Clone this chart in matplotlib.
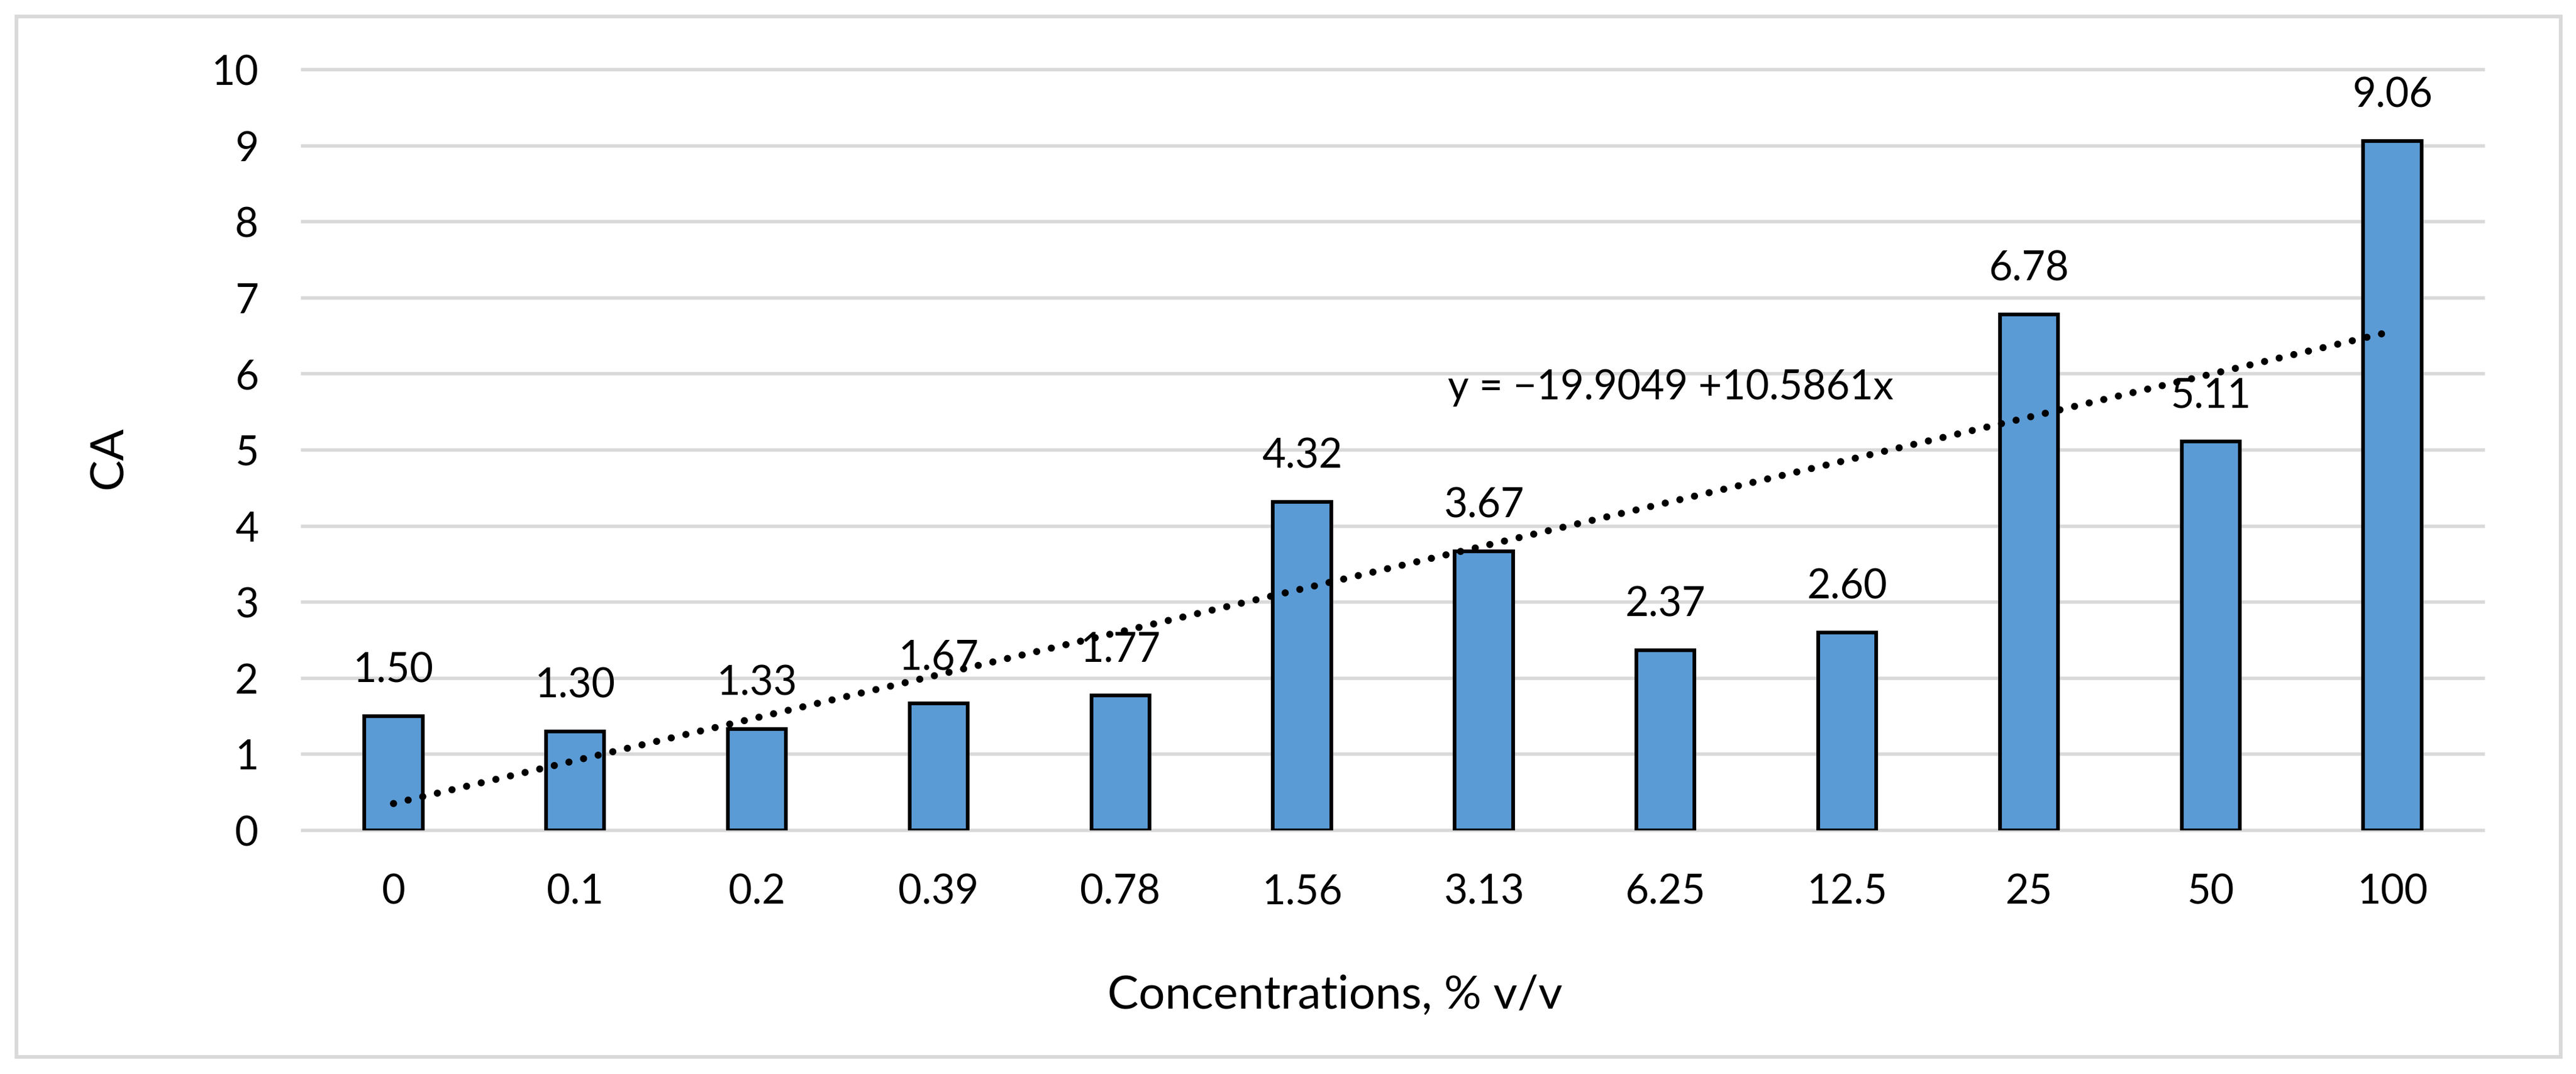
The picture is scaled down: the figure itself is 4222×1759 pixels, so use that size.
import numpy as np
import matplotlib
matplotlib.use('Agg')
import matplotlib.pyplot as plt
from matplotlib.patches import Rectangle

plt.rcParams['font.family'] = ['Lato', 'DejaVu Sans']

# Data.
concentrations = ['0', '0.1', '0.2', '0.39', '0.78', '1.56', '3.13',
                  '6.25', '12.5', '25', '50', '100']
ca_values      = [1.50, 1.30, 1.33, 1.67, 1.77, 4.32, 3.67,
                  2.37, 2.60, 6.78, 5.11, 9.06]
y_ticks        = list(range(0, 11))
trend_label    = 'y = \u221219.9049 +10.5861x'

W, H = 4222, 1759
DPI  = 200
fig  = plt.figure(figsize=(W / DPI, H / DPI), dpi=DPI)

# Light grey chart border.
fig.patches.append(Rectangle((27 / W, 1 - 1731 / H), (4197 - 27) / W, (1731 - 27) / H,
                             transform=fig.transFigure, fill=False,
                             edgecolor='#d9d9d9', linewidth=2.2))

ax = fig.add_axes([496 / W, 1 - 1360 / H, (4070 - 496) / W, (1360 - 114) / H])

x = np.arange(len(concentrations))
ax.bar(x, ca_values, width=0.32, color='#5b9bd5', edgecolor='black',
       linewidth=2.2, zorder=3)

# Data labels above each bar.
for xi, v in zip(x, ca_values):
    ax.annotate(f'{v:.2f}', (xi, v), xytext=(0, 20), textcoords='offset points',
                ha='center', va='baseline', fontsize=24, zorder=4)

# Linear trend line over category positions.
slope, intercept = np.polyfit(x + 1, ca_values, 1)
ax.plot(x, intercept + slope * (x + 1), color='black', linewidth=4.2,
        linestyle=(0, (0.01, 2.1)), dash_capstyle='round', zorder=5)
ax.text(7.03, 5.67, trend_label, ha='center', va='baseline', fontsize=24, zorder=4)

ax.set_xlim(-0.5, len(concentrations) - 0.5)
ax.set_ylim(0, 10)
ax.set_yticks(y_ticks)
ax.set_xticks(x)
ax.set_xticklabels(concentrations)
ax.tick_params(axis='both', length=0, labelsize=24)
ax.tick_params(axis='x', pad=25.5)
ax.tick_params(axis='y', pad=26)

ax.yaxis.grid(True, color='#d9d9d9', linewidth=2.0, zorder=0)
ax.set_axisbelow(True)
for line in ax.get_ygridlines():
    line.set_clip_on(False)
for s in ax.spines.values():
    s.set_visible(False)

ax.set_xlabel('Concentrations, % v/v', fontsize=27.5, va='baseline')
ax.xaxis.set_label_coords(0.4734, -0.2343)
ax.set_ylabel('CA', fontsize=27.5, va='baseline')
ax.yaxis.set_label_coords(-0.0828, 0.49)

fig.savefig('out.png', dpi=DPI)
